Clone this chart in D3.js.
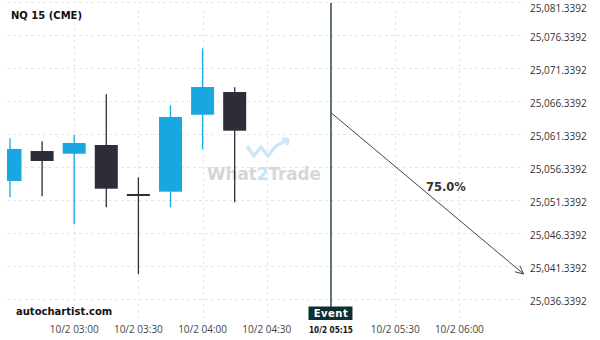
<!DOCTYPE html>
<html><head><meta charset="utf-8">
<script src="https://cdn.jsdelivr.net/npm/d3@7"></script>
<style>html,body{margin:0;padding:0;background:#fff;}svg{display:block;}</style>
</head><body>
<svg id="c" width="600" height="340"></svg>
<script>
// ---- data ----
const title = "NQ 15 (CME)";
const candleTimes = ["02:30","02:45","03:00","03:15","03:30","03:45","04:00","04:15"];
const opens  = [25054.22, 25058.76, 25058.35, 25059.67, 25052.10, 25052.60, 25064.26, 25067.70];
const highs  = [25060.69, 25060.23, 25061.19, 25067.36, 25054.78, 25065.69, 25074.32, 25068.42];
const lows   = [25051.75, 25051.90, 25047.66, 25050.23, 25040.13, 25050.23, 25059.02, 25050.99];
const closes = [25059.07, 25057.25, 25059.98, 25053.05, 25052.10, 25063.92, 25068.46, 25061.84];
const yTicks = [25036.3392,25041.3392,25046.3392,25051.3392,25056.3392,25061.3392,25066.3392,25071.3392,25076.3392,25081.3392];
const xTickTimes = ["03:00","03:30","04:00","04:30","05:30","06:00"];
const xTickLabels = ["10/2 03:00","10/2 03:30","10/2 04:00","10/2 04:30","10/2 05:30","10/2 06:00"];
const eventTime = "05:00";
const eventLabel = "10/2 05:15";
const projTimes = ["05:00","06:30"];
const projValues = [25064.57, 25040.13];
const projText = "75.0%";

// ---- helpers ----
const t = s => { const [h,m] = s.split(":").map(Number); return new Date(2025,9,2,h,m); };
const svg = d3.select("#c");
const L = 7, R = 524, T = 0, B = 318;
const x = d3.scaleTime().domain([new Date(2025,9,2,2,28,36), new Date(2025,9,2,6,30,12)]).range([L, R]);
const y = d3.scaleLinear().domain([25036.3392, 25081.3392]).range([299, 2]);

svg.append("defs").append("clipPath").attr("id","clip")
  .append("rect").attr("x",L).attr("y",T).attr("width",R-L).attr("height",B-T);

// gridlines
const grid = svg.append("g");
grid.selectAll("line.h").data(yTicks).join("line")
  .attr("x1",L).attr("x2",R).attr("y1",d=>Math.round(y(d))+0.5).attr("y2",d=>Math.round(y(d))+0.5)
  .attr("stroke","#e6e6e6").attr("stroke-dasharray","3,3");
grid.selectAll("line.v").data(xTickTimes).join("line")
  .attr("x1",d=>Math.round(x(t(d)))+0.5).attr("x2",d=>Math.round(x(t(d)))+0.5).attr("y1",T+10).attr("y2",B)
  .attr("stroke","#e6e6e6").attr("stroke-dasharray","3,3");

// watermark
const wm = svg.append("g");
wm.append("path")
  .attr("d","M247,146 L254,156 L261,147 L268,156 L276,146 L287,140 M282,139 L288,139.5 L287,145")
  .attr("fill","none").attr("stroke","#cbe8f7").attr("stroke-width",3.5).attr("stroke-linejoin","round");
const wt = wm.append("text").attr("x",207).attr("y",179.5)
  .attr("font-family","DejaVu Sans").attr("font-weight","bold").attr("font-size",17)
  .attr("textLength",114).attr("lengthAdjust","spacingAndGlyphs").attr("fill","#d6d6d6");
wt.append("tspan").text("What");
wt.append("tspan").attr("fill","#c3e4f5").text("2");
wt.append("tspan").text("Trade");

// candles
const blue = "#19a7e1", dark = "#2c2d36";
const data = candleTimes.map((c,i)=>({t:t(c),o:opens[i],h:highs[i],l:lows[i],c:closes[i]}));
const cg = svg.append("g").attr("clip-path","url(#clip)");
const bw = 23;
const col = d => d.c > d.o ? blue : dark;
cg.selectAll("line.w").data(data).join("line")
  .attr("x1",d=>x(d.t)).attr("x2",d=>x(d.t)).attr("y1",d=>y(d.h)).attr("y2",d=>y(d.l))
  .attr("stroke",col).attr("stroke-width",1.3);
cg.selectAll("rect.b").data(data).join("rect")
  .attr("x",d=>x(d.t)-bw/2).attr("width",bw)
  .attr("y",d=>Math.min(y(d.o),y(d.c)) - (d.o===d.c?1:0))
  .attr("height",d=>Math.max(2,Math.abs(y(d.o)-y(d.c))))
  .attr("fill",col);

// y axis labels
svg.append("g").selectAll("text").data(yTicks).join("text")
  .attr("x",530).attr("y",d=>Math.max(y(d)+5.5, 11.5))
  .attr("font-family","Open Sans").attr("font-size",10).attr("fill","#333")
  .text(d3.format(",.4f"));

// x axis labels
svg.append("g").selectAll("text").data(xTickTimes).join("text")
  .attr("x",d=>x(t(d))).attr("y",333).attr("text-anchor","middle")
  .attr("font-family","Open Sans").attr("font-size",10).attr("fill","#444")
  .text((d,i)=>xTickLabels[i]);

// event
const ex = x(t(eventTime));
svg.append("line").attr("x1",ex).attr("x2",ex).attr("y1",3).attr("y2",307)
  .attr("stroke","#0c2a31").attr("stroke-width",1.3);
svg.append("rect").attr("x",ex-22.5).attr("y",306.5).attr("width",44).attr("height",13.5).attr("fill","#0f2e34");
svg.append("text").attr("x",ex).attr("y",317).attr("text-anchor","middle")
  .attr("font-family","DejaVu Sans").attr("font-weight","bold").attr("font-size",10)
  .attr("letter-spacing",0.5).attr("fill","#fff").text("Event");
svg.append("text").attr("x",ex).attr("y",333).attr("text-anchor","middle")
  .attr("font-family","DejaVu Sans Condensed").attr("font-weight","bold").attr("font-size",9)
  .attr("textLength",44).attr("lengthAdjust","spacingAndGlyphs").attr("fill","#111").text(eventLabel);

// projection arrow
const x1 = x(t(projTimes[0])), y1 = y(projValues[0]), x2 = x(t(projTimes[1])), y2 = y(projValues[1]);
svg.append("line").attr("x1",x1).attr("y1",y1).attr("x2",x2).attr("y2",y2)
  .attr("stroke","#444").attr("stroke-width",1);
const ang = Math.atan2(y2-y1, x2-x1), al = 9, aw = 0.45;
svg.append("path")
  .attr("d",`M${x2-al*Math.cos(ang-aw)},${y2-al*Math.sin(ang-aw)} L${x2},${y2} L${x2-al*Math.cos(ang+aw)},${y2-al*Math.sin(ang+aw)}`)
  .attr("fill","none").attr("stroke","#444").attr("stroke-width",1);
svg.append("text").attr("x",426).attr("y",191)
  .attr("font-family","DejaVu Sans").attr("font-weight","bold").attr("font-size",11.5).attr("fill","#333")
  .text(projText);

// title and footer
svg.append("text").attr("x",11).attr("y",18.5)
  .attr("font-family","DejaVu Sans").attr("font-weight","bold").attr("font-size",10).attr("fill","#111").text(title);
svg.append("text").attr("x",16).attr("y",314.5)
  .attr("font-family","DejaVu Sans").attr("font-weight","bold").attr("font-size",10).attr("fill","#111").text("autochartist.com");
</script>
</body></html>
